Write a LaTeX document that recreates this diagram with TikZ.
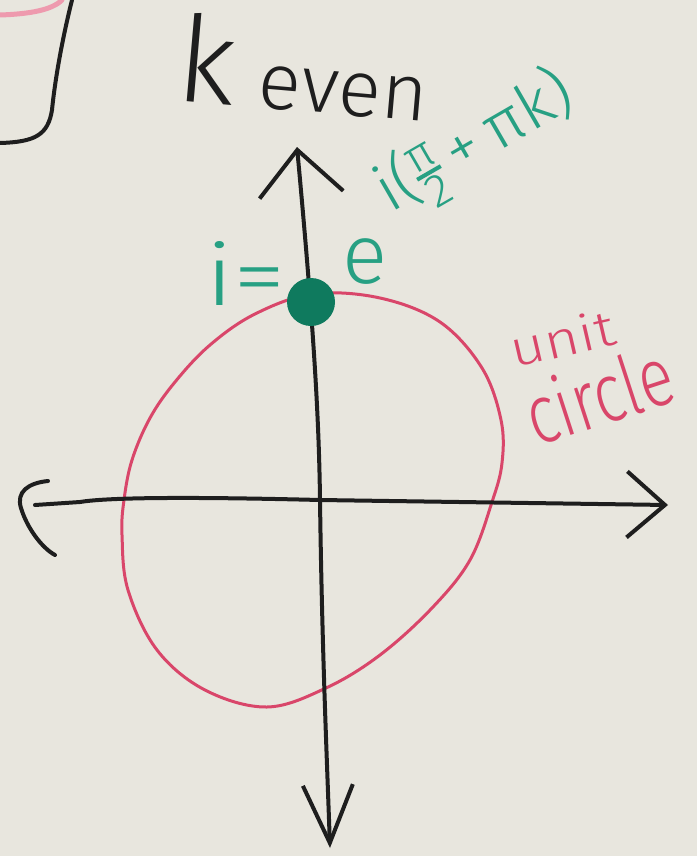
\documentclass[tikz,border=0pt]{standalone}
\usepackage{fontspec}
\setmainfont{Fira Sans}[UprightFont=* Light]
\usetikzlibrary{arrows.meta}
\definecolor{board}{HTML}{E8E6DE}
\definecolor{ink}{HTML}{1E1E1E}
\definecolor{teal}{HTML}{27A083}
\definecolor{dotgreen}{HTML}{0F7A5E}
\definecolor{redink}{HTML}{D9466A}
\definecolor{pinkink}{HTML}{EE9AAE}
\newcommand{\pifrac}{\raisebox{-20pt}{\fontsize{46}{46}\selectfont\setlength{\lineskip}{3pt}\shortstack{π\\\rule{26pt}{4pt}\\2}}}
\tikzset{
  axis/.style={draw=ink, line width=4pt, line cap=round, line join=round},
  circ/.style={draw=redink, line width=3pt},
  greentext/.style={text=teal, inner sep=0pt},
  redtext/.style={text=redink, inner sep=0pt},
  blacktext/.style={text=ink, inner sep=0pt},
}
\begin{document}
\begin{tikzpicture}[x=1pt,y=-1pt]
\fill[board] (0,0) rectangle (697,856);
\useasboundingbox (0,0) rectangle (697,856);
% partial box at top left
\draw[pinkink, line width=5pt, line cap=round] (0,15) .. controls (30,14) and (52,10) .. (62,0);
\draw[ink, line width=4pt, line cap=round] (72,0) .. controls (62,40) and (55,80) .. (52,110)
  .. controls (48,135) and (35,142) .. (0,143);
% unit circle
\draw[circ] plot[smooth cycle, tension=0.6] coordinates {
 (313,294) (380,298) (440,322) (482,368) (501,420) (502,463) (492,502)
 (470,560) (432,608) (380,655) (326,688) (267,707) (205,690) (157,650)
 (128,590) (122,535) (124,500) (132,460) (150,418) (175,382) (210,345)
 (255,314)};
% axes
\coordinate (top) at (297,147);
\coordinate (mid) at (320,500);
\coordinate (bot) at (330,848);
\coordinate (left) at (35,505);
\coordinate (right) at (668,505);
\draw[axis, -{Straight Barb[length=45pt,width=84pt,line width=4pt]}]
  (mid) .. controls (319,420) and (314,330) .. (top);
\draw[axis, -{Straight Barb[length=58pt,width=50pt,line width=4pt]}]
  (mid) .. controls (322,650) and (327,760) .. (bot);
\draw[axis, -{Straight Barb[length=38pt,width=66pt,line width=4pt]}]
  (mid) -- (right);
\draw[axis] (mid) .. controls (200,497) and (110,497) .. (80,502) -- (left);
% left arrowhead, hand drawn bracket
\draw[axis] (48,481) .. controls (28,483) and (16,492) .. (21,508)
  .. controls (27,528) and (42,548) .. (55,555);
% point i
\node[circle, fill=dotgreen, minimum width=46pt, minimum height=48pt, inner sep=0pt] (pt) at (311,302) {};
% labels
\node[blacktext, anchor=base west, rotate=-5] (keven) at (174,100)
  {\fontsize{120}{120}\selectfont k\fontsize{80}{80}\selectfont\hspace{0.3em}even};
\node[greentext, anchor=base west, xscale=1.25, font=\fontsize{85}{85}\selectfont] (ieq) at (205,305) {i=};
\node[greentext, anchor=base west, font=\fontsize{84}{84}\selectfont] (ee) at (342,283) {e};
\node[greentext, anchor=base west, rotate=30, xscale=1.05, font=\fontsize{64}{64}\selectfont] (expo) at (390,214)
  {i(\pifrac\,+\,πk)};
\node[redtext, anchor=base west, rotate=13, xscale=1.2, font=\fontsize{50}{50}\selectfont] (unit) at (514,368) {unit};
\node[redtext, anchor=base west, rotate=18, yscale=1.3, font=\fontsize{64}{64}\selectfont] (circlelabel) at (536,447) {circle};
\end{tikzpicture}
\end{document}
